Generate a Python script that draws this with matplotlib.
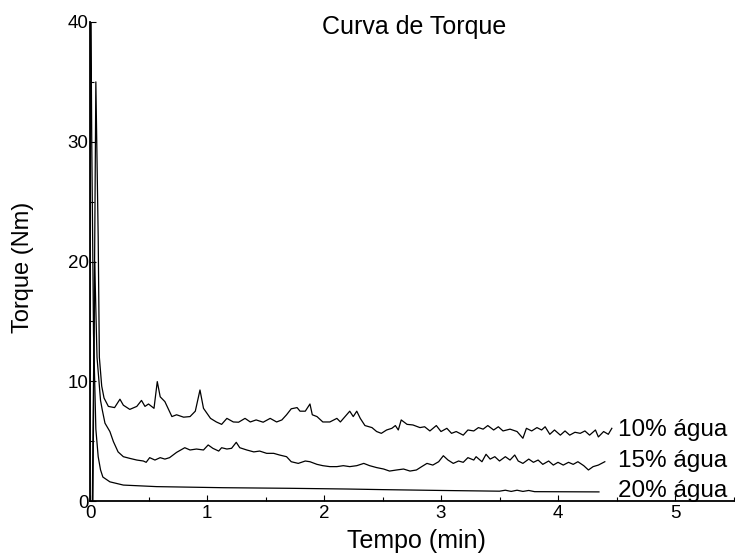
import numpy as np
import matplotlib
matplotlib.use("Agg")
import matplotlib.pyplot as plt
from matplotlib.ticker import MultipleLocator

plt.rcParams["font.family"] = ["Liberation Sans", "DejaVu Sans"]

# Torque curves: time (min), torque (Nm)
t10 = [0.025, 0.05, 0.07, 0.08, 0.10, 0.12, 0.157, 0.21, 0.256, 0.285, 0.34, 0.40, 0.44, 0.47,
       0.50, 0.547, 0.575, 0.60, 0.64, 0.70, 0.74, 0.80, 0.855, 0.90, 0.94, 0.97, 1.03, 1.08,
       1.125, 1.17, 1.225, 1.27, 1.325, 1.37, 1.42, 1.48, 1.54, 1.595, 1.64, 1.68, 1.72, 1.77,
       1.795, 1.84, 1.88, 1.90, 1.94, 1.99, 2.05, 2.11, 2.14, 2.18, 2.22, 2.25, 2.28, 2.31,
       2.35, 2.41, 2.45, 2.49, 2.535, 2.58, 2.61, 2.635, 2.66, 2.71, 2.76, 2.82, 2.86, 2.905,
       2.96, 3.00, 3.05, 3.09, 3.13, 3.19, 3.23, 3.28, 3.32, 3.36, 3.40, 3.45, 3.49, 3.53,
       3.59, 3.65, 3.70, 3.73, 3.775, 3.82, 3.86, 3.89, 3.93, 3.97, 4.02, 4.06, 4.10, 4.145,
       4.19, 4.23, 4.27, 4.32, 4.345, 4.39, 4.43, 4.46]
v10 = [0.0, 35.0, 22.0, 12.0, 9.6, 8.6, 7.9, 7.8, 8.5, 8.0, 7.65, 7.9, 8.4, 7.9,
       8.1, 7.74, 9.97, 8.7, 8.3, 7.05, 7.2, 7.0, 7.05, 7.5, 9.27, 7.74, 6.9, 6.6,
       6.4, 6.9, 6.6, 6.58, 6.9, 6.6, 6.77, 6.58, 6.9, 6.6, 6.77, 7.2, 7.7, 7.8,
       7.5, 7.5, 8.1, 7.2, 7.05, 6.6, 6.6, 6.9, 6.6, 7.05, 7.5, 7.05, 7.5, 6.9,
       6.3, 6.13, 5.8, 5.65, 5.93, 6.07, 6.3, 5.93, 6.77, 6.4, 6.35, 6.13, 6.2, 5.85,
       6.3, 5.8, 6.07, 5.65, 5.8, 5.5, 5.93, 5.85, 6.13, 6.0, 6.3, 5.93, 6.2, 5.85,
       6.0, 5.8, 5.24, 6.07, 5.85, 6.13, 5.93, 6.2, 5.57, 5.93, 5.5, 5.85, 5.5, 5.74,
       5.65, 5.85, 5.5, 5.93, 5.35, 5.8, 5.57, 6.07]

t15 = [0.02, 0.04, 0.06, 0.09, 0.105, 0.128, 0.17, 0.20, 0.24, 0.285, 0.34, 0.40, 0.456,
       0.48, 0.51, 0.555, 0.60, 0.64, 0.68, 0.74, 0.81, 0.855, 0.91, 0.97, 1.01, 1.05, 1.10,
       1.125, 1.17, 1.21, 1.25, 1.28, 1.34, 1.40, 1.45, 1.51, 1.57, 1.62, 1.68, 1.72, 1.78,
       1.84, 1.88, 1.94, 1.99, 2.05, 2.11, 2.165, 2.22, 2.28, 2.34, 2.39, 2.45, 2.51, 2.56,
       2.62, 2.68, 2.735, 2.79, 2.835, 2.88, 2.93, 2.98, 3.02, 3.06, 3.105, 3.15, 3.19, 3.23,
       3.28, 3.30, 3.35, 3.385, 3.42, 3.46, 3.50, 3.55, 3.59, 3.63, 3.66, 3.70, 3.75, 3.79,
       3.83, 3.87, 3.92, 3.96, 4.00, 4.045, 4.09, 4.13, 4.17, 4.22, 4.26, 4.30, 4.345, 4.40]
v15 = [0.0, 20.0, 12.0, 8.4, 7.6, 6.5, 5.8, 4.96, 4.1, 3.7, 3.56, 3.42, 3.34,
       3.23, 3.62, 3.42, 3.62, 3.5, 3.62, 4.06, 4.45, 4.26, 4.34, 4.26, 4.68, 4.4, 4.17,
       4.45, 4.34, 4.4, 4.9, 4.45, 4.26, 4.1, 4.17, 3.98, 3.98, 3.84, 3.7, 3.28, 3.14,
       3.34, 3.28, 3.06, 2.95, 2.87, 2.87, 2.95, 2.87, 2.95, 3.14, 2.95, 2.79, 2.67, 2.5,
       2.59, 2.67, 2.5, 2.59, 2.87, 3.14, 3.0, 3.28, 3.78, 3.42, 3.14, 3.34, 3.23, 3.62,
       3.42, 3.7, 3.28, 3.9, 3.5, 3.7, 3.34, 3.7, 3.42, 3.84, 3.34, 3.14, 3.5, 3.23,
       3.42, 3.06, 3.34, 3.0, 3.23, 3.0, 3.23, 3.06, 3.28, 2.95, 2.59, 2.87, 3.0, 3.28]

t20 = [0.0, 0.005, 0.015, 0.03, 0.05, 0.07, 0.09, 0.11, 0.17, 0.285, 0.57, 1.14, 1.71,
       2.2, 2.5, 3.0, 3.5, 3.55, 3.6, 3.65, 3.7, 3.75, 3.8, 4.35]
v20 = [0.0, 45.0, 30.0, 14.0, 6.0, 3.7, 2.6, 2.0, 1.6, 1.33, 1.2, 1.11, 1.06,
       1.0, 0.95, 0.88, 0.82, 0.9, 0.8, 0.9, 0.8, 0.88, 0.78, 0.76]

series = [(t10, v10, "10% água", 5.43), (t15, v15, "15% água", 2.84), (t20, v20, "20% água", 0.33)]

fig = plt.figure(figsize=(7.35, 5.59), dpi=100)
ax = fig.add_axes([90 / 735, 58 / 559, 645 / 735, 479 / 559])

for t, v, name, ypos in series:
    ax.plot(t, v, color="black", lw=0.9)
    ax.text(4.51, ypos, name, fontsize=17.5, va="baseline", ha="left", clip_on=False)

ax.set_xlim(0, 645 / 117)
ax.set_ylim(0, 40)
ax.spines["top"].set_visible(False)
ax.spines["right"].set_visible(False)
ax.spines["left"].set_linewidth(1.3)
ax.spines["bottom"].set_linewidth(1.3)

ax.set_xticks([0, 1, 2, 3, 4, 5])
ax.set_yticks([0, 10, 20, 30, 40])
ax.xaxis.set_minor_locator(MultipleLocator(0.5))
ax.yaxis.set_minor_locator(MultipleLocator(5))
ax.tick_params(which="both", direction="in", width=0.8, labelsize=13.5)
ax.tick_params(which="major", length=4)
ax.tick_params(which="minor", length=3)
ax.tick_params(axis="x", pad=3)
ax.tick_params(axis="y", pad=1)

fig.text(414 / 735, 1 - 34 / 559, "Curva de Torque", fontsize=18, ha="center", va="baseline")
fig.text(416 / 735, 1 - 548 / 559, "Tempo (min)", fontsize=18, ha="center", va="baseline")
fig.text(23 / 735, 1 - 267 / 559, "Torque (Nm)", fontsize=17, ha="center", va="center", rotation=90)

fig.savefig("out.png", dpi=100)
